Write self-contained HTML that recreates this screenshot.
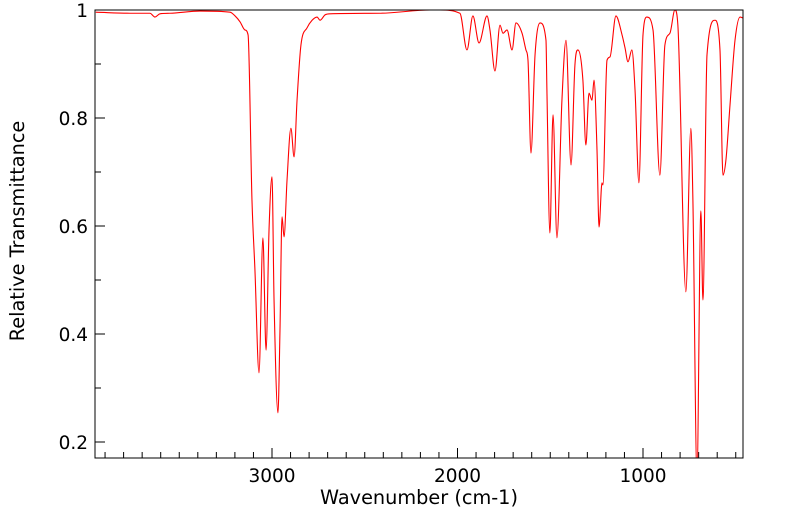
<!DOCTYPE html>
<html><head><meta charset="utf-8"><style>
html,body{margin:0;padding:0;background:#fff;}
svg{display:block;font-family:"DejaVu Sans","Liberation Sans",sans-serif;}
</style></head><body>
<svg id="chart" width="799" height="516" viewBox="0 0 799 516" xmlns="http://www.w3.org/2000/svg">
<defs><clipPath id="plotclip"><rect x="95" y="10" width="648" height="448"/></clipPath></defs>
<g id="axes"></g>
<path id="spectrum" fill="none" stroke="#ff0000" stroke-width="1.1" stroke-linejoin="round" clip-path="url(#plotclip)"/>
<rect x="95" y="10" width="648" height="448" fill="none" stroke="#000" stroke-width="1"/>
<text x="419" y="504" text-anchor="middle" font-size="19.3">Wavenumber (cm-1)</text>
<text transform="translate(24,231) rotate(-90)" text-anchor="middle" font-size="19.3">Relative Transmittance</text>
</svg>
<script>
const wavenumbers = [3950,3765,3658,3631,3604,3550,3388,3226,3199,3172,3146,3129,3108,3092,3070,3049,3032,3016,3000,2989,2968,2957,2946,2935,2919,2898,2881,2865,2844,2811,2784,2757,2741,2714,2687,2418,2148,2094,1987,1949,1917,1884,1841,1825,1798,1771,1755,1733,1706,1685,1652,1631,1620,1604,1582,1555,1523,1518,1502,1485,1464,1437,1415,1388,1367,1351,1324,1308,1291,1275,1264,1248,1237,1221,1216,1194,1178,1146,1113,1097,1081,1060,1043,1022,1000,979,946,909,882,855,828,812,769,742,731,709,688,677,655,612,585,569,553,531,504,477,461];
const transmittance = [0.996,0.994,0.994,0.987,0.993,0.994,0.998,0.996,0.989,0.978,0.963,0.954,0.648,0.519,0.328,0.578,0.370,0.593,0.691,0.463,0.254,0.407,0.617,0.580,0.685,0.781,0.728,0.833,0.935,0.967,0.981,0.987,0.981,0.991,0.993,0.994,1.000,1.000,0.994,0.926,0.989,0.939,0.989,0.963,0.887,0.972,0.957,0.963,0.926,0.976,0.957,0.926,0.907,0.735,0.917,0.976,0.944,0.852,0.587,0.806,0.578,0.833,0.944,0.713,0.898,0.926,0.870,0.750,0.846,0.833,0.870,0.741,0.598,0.680,0.676,0.907,0.913,0.989,0.954,0.930,0.904,0.926,0.852,0.680,0.954,0.987,0.963,0.694,0.935,0.957,1.000,0.972,0.478,0.781,0.648,0.140,0.628,0.463,0.917,0.981,0.926,0.694,0.722,0.824,0.944,0.987,0.985];
const xTickLabels = [3000,2000,1000];
const yTickLabels = [0.2,0.4,0.6,0.8,1];

const NS="http://www.w3.org/2000/svg";
const X0=95,X1=743,Y0=10,Y1=458;
function xScale(w){return 272-(w-3000)*0.1855;}
function yScale(t){return 10+(1-t)*540;}
const axes=document.getElementById('axes');
function line(x1,y1,x2,y2){const l=document.createElementNS(NS,'line');l.setAttribute('x1',x1);l.setAttribute('y1',y1);l.setAttribute('x2',x2);l.setAttribute('y2',y2);l.setAttribute('stroke','#000');l.setAttribute('stroke-width','1');return l;}
for(let w=500;w<=3900;w+=100){
  const x=xScale(w); if(x<X0||x>X1) continue;
  const major=w%1000===0;
  const t=line(x,Y1,x,Y1-(major?10:6));
  
  
  axes.appendChild(t);
}
xTickLabels.forEach(v=>{
  const t=document.createElementNS(NS,'text');
  t.setAttribute('x',xScale(v));t.setAttribute('y',482);t.setAttribute('text-anchor','middle');t.setAttribute('font-size','18.5');
  t.textContent=v;
  
  
  axes.appendChild(t);
});
for(let k=2;k<=10;k++){
  const v=k/10,y=yScale(v);
  const major=k%2===0;
  const t=line(X0,y,X0+(major?10:6),y);
  
  
  axes.appendChild(t);
}
yTickLabels.forEach(v=>{
  const t=document.createElementNS(NS,'text');
  t.setAttribute('x',88);t.setAttribute('y',yScale(v)+7);t.setAttribute('text-anchor','end');t.setAttribute('font-size','18.5');
  t.textContent=v===1?'1':v.toFixed(1);
  
  
  axes.appendChild(t);
});
const px=wavenumbers.map(xScale), py=transmittance.map(yScale);
const n=px.length, m=new Array(n).fill(0), s=[];
for(let i=0;i<n-1;i++) s.push((py[i+1]-py[i])/(px[i+1]-px[i]));
m[0]=s[0]; m[n-1]=s[n-2];
for(let i=1;i<n-1;i++){ m[i]=(s[i-1]*s[i]<=0)?0:(s[i-1]+s[i])/2; }
for(let i=0;i<n-1;i++){
  if(s[i]===0){m[i]=0;m[i+1]=0;continue;}
  const a=m[i]/s[i], b=m[i+1]/s[i], h=a*a+b*b;
  if(h>9){const t=3/Math.sqrt(h);m[i]=t*a*s[i];m[i+1]=t*b*s[i];}
}
let d='M'+px[0].toFixed(1)+','+py[0].toFixed(1);
for(let i=0;i<n-1;i++){
  const h=(px[i+1]-px[i])/3;
  d+='C'+(px[i]+h).toFixed(2)+','+(py[i]+m[i]*h).toFixed(2)+' '+(px[i+1]-h).toFixed(2)+','+(py[i+1]-m[i+1]*h).toFixed(2)+' '+px[i+1].toFixed(2)+','+py[i+1].toFixed(2);
}
document.getElementById('spectrum').setAttribute('d',d);
</script>
</body></html>
